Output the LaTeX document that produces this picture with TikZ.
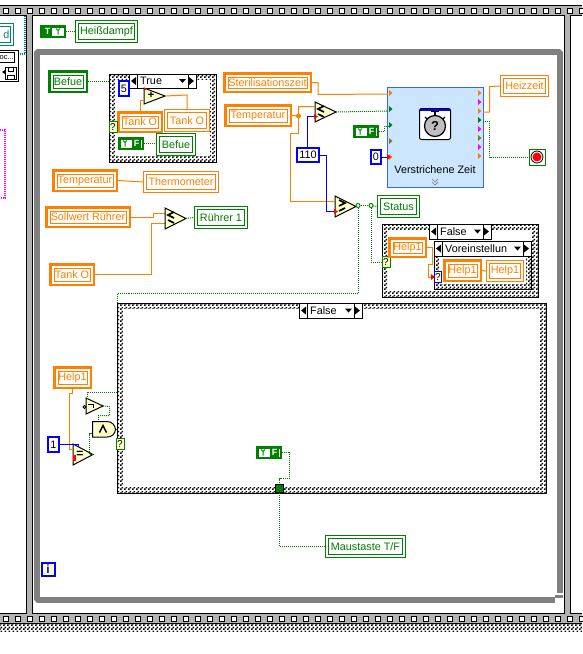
\documentclass[tikz,border=0pt]{standalone}
\usepackage{fontspec}
\setmainfont{Liberation Sans}
\usetikzlibrary{patterns,calc}
\pgfdeclarepatternformonly{lvchecker}{\pgfqpoint{0pt}{0pt}}{\pgfqpoint{4pt}{4pt}}{\pgfqpoint{4pt}{4pt}}{%
  \pgfpathrectangle{\pgfqpoint{0pt}{0pt}}{\pgfqpoint{2pt}{2pt}}%
  \pgfpathrectangle{\pgfqpoint{2pt}{2pt}}{\pgfqpoint{2pt}{2pt}}%
  \pgfusepath{fill}}
\definecolor{lvor}{HTML}{FF8000}
\definecolor{lvgr}{HTML}{007F00}
\definecolor{lvbl}{HTML}{0000FF}
\definecolor{lvbar}{HTML}{B3B3B3}
\definecolor{lvdk}{HTML}{808080}
\definecolor{lvtri}{HTML}{FFFFCC}
\definecolor{lvvi}{HTML}{CCE6FF}
\definecolor{lvviedge}{HTML}{3366FF}
\definecolor{lvteal}{HTML}{008080}
\definecolor{lvol}{HTML}{808000}
\definecolor{lvmg}{HTML}{FF00FF}
\tikzset{
  lvtext/.style={font=\fontsize{10.8}{12}\selectfont},
  owire/.style={lvor,line width=1pt},
  bwire/.style={lvbl,line width=1pt},
  gwire/.style={lvgr,line width=1pt,dash pattern=on 1pt off 1pt},
  prim/.style={draw=black,fill=lvtri,line width=1pt,line join=miter},
  junc/.style={circle,draw=lvgr,fill=white,line width=1pt,minimum size=4pt,inner sep=0pt},
  selterm/.style={fill=lvtri,line width=1pt,minimum width=8pt,minimum height=11pt,inner sep=0pt,font=\fontsize{10}{10}\selectfont},
}
% name,x0,y0,x1,y1,text,colour,outer width
\newcommand\lvbox[8]{%
  \pgfmathsetmacro\lvcx{(#2+#4)/2}\pgfmathsetmacro\lvcy{(#3+#5)/2}%
  \pgfmathsetmacro\lvw{#4-#2-#8}\pgfmathsetmacro\lvh{#5-#3-#8}%
  \node[draw=#7,line width=#8pt,fill=white,minimum width=\lvw pt,minimum height=\lvh pt,inner sep=0pt,text=#7,lvtext] (#1) at (\lvcx,\lvcy) {#6};%
  \draw[#7,line width=1pt] ({#2+#8+2.5},{#3+#8+2.5}) rectangle ({#4-#8-2.5},{#5-#8-2.5});}
% numeric constant
\newcommand\lvnum[6]{%
  \pgfmathsetmacro\lvcx{(#2+#4)/2}\pgfmathsetmacro\lvcy{(#3+#5)/2}%
  \pgfmathsetmacro\lvw{#4-#2-2}\pgfmathsetmacro\lvh{#5-#3-2}%
  \node[draw=lvbl,line width=2pt,fill=white,minimum width=\lvw pt,minimum height=\lvh pt,inner sep=0pt,lvtext] (#1) at (\lvcx,\lvcy) {#6};}
% boolean constant: name,x0,y0,letter,glyph-left?(0/1)
\newcommand\lvbool[5]{%
  \node[draw=lvgr,line width=2.5pt,fill=white,minimum width=23.5pt,minimum height=10.5pt,inner sep=0pt] (#1) at ({#2+13},{#3+6.5}) {};%
  \ifnum#5=1
    \node[fill=lvgr,text=white,inner sep=0pt,minimum width=9pt,minimum height=9pt,font=\fontsize{9}{9}\bfseries\selectfont] (#1-l) at ({#2+18.5},{#3+6.5}) {#4};%
    \draw[lvgr,line width=1pt] ({#2+5},{#3+3.5})--({#2+7},{#3+5.5})--({#2+9},{#3+3.5}) ({#2+7},{#3+5.5})--({#2+7},{#3+9.5});%
  \else
    \node[fill=lvgr,text=white,inner sep=0pt,minimum width=9pt,minimum height=9pt,font=\fontsize{9}{9}\bfseries\selectfont] (#1-l) at ({#2+7.5},{#3+6.5}) {#4};%
    \draw[lvgr,line width=1pt] ({#2+16},{#3+3.5})--({#2+18},{#3+5.5})--({#2+20},{#3+3.5}) ({#2+18},{#3+5.5})--({#2+18},{#3+9.5});%
  \fi}
% case frame: name,x0,y0,x1,y1,border
\newcommand\lvcase[6]{%
  \pgfmathsetmacro\lvcx{(#2+#4)/2}\pgfmathsetmacro\lvcy{(#3+#5)/2}%
  \pgfmathsetmacro\lvw{#4-#2}\pgfmathsetmacro\lvh{#5-#3}%
  \node[draw=black,line width=1pt,pattern=lvchecker,minimum width=\lvw pt,minimum height=\lvh pt,inner sep=0pt] (#1) at (\lvcx,\lvcy) {};%
  \fill[white] ({#2+#6},{#3+#6}) rectangle ({#4-#6},{#5-#6});}
% selector: name,x0,y0,x1,y1,text
\newcommand\lvsel[6]{%
  \pgfmathsetmacro\lvcx{(#2+#4)/2}\pgfmathsetmacro\lvcy{(#3+#5)/2}%
  \pgfmathsetmacro\lvw{#4-#2}\pgfmathsetmacro\lvh{#5-#3}%
  \node[draw=black,line width=1pt,fill=white,minimum width=\lvw pt,minimum height=\lvh pt,inner sep=0pt] (#1) at (\lvcx,\lvcy) {};%
  \draw[black,line width=1pt] ({#2+8},#3)--({#2+8},#5) ({#4-8},#3)--({#4-8},#5);%
  \fill ({#2+2},\lvcy)--({#2+7},{\lvcy-4})--({#2+7},{\lvcy+4})--cycle;%
  \fill ({#4-2},\lvcy)--({#4-7},{\lvcy-4})--({#4-7},{\lvcy+4})--cycle;%
  \fill ({#4-17},{\lvcy-2})--({#4-10},{\lvcy-2})--({#4-13.5},{\lvcy+2})--cycle;%
  \node[anchor=west,inner sep=0pt,lvtext] at ({#2+11},\lvcy) {#6};}
% triangle primitive: name, x, ytop, ybottom, xtip
\newcommand\lvtri[5]{%
  \coordinate (#1-o) at (#5,{(#3+#4)/2});%
  \draw[prim] (#2,#3)--(#5,{(#3+#4)/2})--(#2,#4)--cycle;}
\newcommand\lvle[2]{\draw[line width=1.6pt,line join=miter] ({#1+6},{#2-6})--(#1,{#2-3})--({#1+6},#2) (#1,{#2+2})--({#1+6},{#2+5});}
\newcommand\lvge[2]{\draw[line width=1.6pt,line join=miter] (#1,{#2-6})--({#1+6},{#2-3})--(#1,#2) ({#1+6},{#2+2})--(#1,{#2+5});}
\newcommand\lvterm[3]{\fill[#3] ({#1},{#2-3})--({#1+3.5},#2)--({#1},{#2+3})--cycle;}
\begin{document}
\begin{tikzpicture}[x=1pt,y=-1pt]
\useasboundingbox (0,0) rectangle (582,654);
\fill[white] (0,0) rectangle (582,654);
% ---- film strip frame
\fill[lvbar] (0,5) rectangle (582,15);
\fill[lvbar] (0,614) rectangle (582,623);
\fill[lvbar] (26,15) rectangle (33,614);
\fill[lvbar] (564,15) rectangle (571,614);
\draw[line width=1pt] (0,5.5)--(582,5.5);
\draw[line width=1pt] (0,15.5)--(26.5,15.5)--(26.5,613.5)--(0,613.5);
\draw[line width=1pt] (32.5,613.5)--(32.5,15.5)--(564.5,15.5)--(564.5,613.5)--(32.5,613.5);
\draw[line width=1pt] (582,15.5)--(570.5,15.5)--(570.5,613.5)--(582,613.5);
\draw[line width=1pt] (0,623.5)--(582,623.5);
\fill[pattern=lvchecker] (0,624) rectangle (582,631);
\foreach \k in {0,...,48}{
  \draw[fill=white,line width=1pt] ({3.5+12*\k},8.5) rectangle ({8.5+12*\k},13.5);
  \draw[fill=white,line width=1pt] ({3.5+12*\k},616.5) rectangle ({8.5+12*\k},621.5);
}
% ---- left neighbour frame fragments
\draw[lvteal,line width=2pt,dash pattern=on 1pt off 1pt] (25,16)--(25,54)--(19,54);
\draw[lvteal,line width=1pt] (0,23.5)--(13.5,23.5)--(13.5,45.5)--(0,45.5);
\draw[lvteal,line width=1pt] (0,26.5)--(10.5,26.5)--(10.5,42.5)--(0,42.5);
\node[text=lvteal,lvtext,anchor=east,inner sep=0pt] (adfrag) at (9.5,34.5) {d};
\draw[line width=1pt,fill=white] (0,50.5)--(18.5,50.5)--(18.5,81.5)--(0,81.5);
\draw[line width=1pt] (0,52.5)--(14.5,52.5)--(14.5,62.5)--(0,62.5);
\node[font=\fontsize{7.5}{8}\selectfont,anchor=east,inner sep=0pt] (ocfrag) at (14,57.5) {oc...};
\draw[line width=1pt,fill=white] (5.5,67.5)--(16.5,67.5)--(16.5,79.5)--(5.5,79.5)--cycle;
\draw[line width=1pt] (8.5,67.5) rectangle (13.5,71.5) (7.5,79.5)--(7.5,75.5)--(14.5,75.5)--(14.5,79.5);
\fill (2,72)--(5,70)--(5,74)--cycle;
\draw[lvmg,line width=2pt,dash pattern=on 1pt off 1pt] (0,130)--(5,130)--(5,198)--(0,198);
% ---- while loop
\draw[lvdk,line width=6pt,line join=bevel] (37,600)--(37,52)--(560,52)--(560,593);
\draw[lvdk,line width=6pt,line join=bevel] (37,593)--(37,600)--(555,600);
\fill[lvdk] (555,595)--(563,595)--(563,598)--(555,598)--cycle;
% ---- Heissdampf
\lvbool{cT}{40}{25}{T}{0}
\lvbox{heiss}{75}{20}{138}{43}{Heißdampf}{lvgr}{1}
\draw[gwire] (cT.east)--(heiss.west);
% ---- first case
\lvbox{befueC}{48}{70}{88}{93}{Befue}{lvgr}{2.5}
\lvcase{case1}{109}{74}{216}{162}{6}
\draw[gwire] (befueC.east)--(case1.west |- befueC.east);
\lvsel{sel1}{129}{74}{196}{88}{True}
\lvnum{five}{118}{80}{130}{97}{5}
\lvbox{tankC}{117}{111}{163}{133}{Tank O}{lvor}{2.5}
\lvbox{tankI}{164}{109}{210}{132}{Tank O}{lvor}{1}
\lvtri{add}{144}{88}{104}{165}
\node[font=\bfseries\fontsize{11}{11}\selectfont,inner sep=0pt] (plus) at (151,95) {+};
\fill[red] (144,88) rectangle (146,90);
\draw[owire] (140,111)--(140,100)--(144,100);
\draw[owire] (add-o)--(187,95)--(187,109);
\node[draw=lvgr,selterm] (q1) at (113,127) {?};
\lvbool{cF1}{118}{137}{F}{1}
\lvbox{befueI}{156}{133}{196}{156}{Befue}{lvgr}{1}
\draw[gwire] (cF1.east)--(cF1.east -| befueI.west);
% ---- timer VI
\node[draw=lvviedge,fill=lvvi,line width=1pt,minimum width=96pt,minimum height=100pt,inner sep=0pt] (vi) at (435,137) {};
\coordinate (vi-l1) at (388,94);\coordinate (vi-l2) at (388,111);\coordinate (vi-l3) at (388,126);\coordinate (vi-l5) at (388,157);
\coordinate (vi-r3) at (483,112);\coordinate (vi-r4) at (483,121);
\lvterm{389}{93}{lvor}\lvterm{389}{109}{lvgr}\lvterm{389}{125}{lvgr}\lvterm{389}{141}{lvol}\lvterm{389}{157}{lvor}
\lvterm{478}{93}{lvor}\lvterm{478}{102}{lvmg}\lvterm{478}{111}{lvor}\lvterm{478}{120}{lvgr}\lvterm{478}{129}{lvmg}\lvterm{478}{138}{lvol}\lvterm{478}{147}{lvmg}\lvterm{478}{156}{lvor}
\draw[fill=white,line width=1pt,rounded corners=2pt] (419.5,108.5) rectangle (450.5,139.5);
\fill[lvbl] (420,108.5) rectangle (450,110.5);
\draw[fill=lightgray,line width=1.2pt] (435,126) circle (10.5);
\draw[line width=1.2pt] (431,111.5)--(439,111.5) (435,111.5)--(435,115.5);
\draw[line width=1.2pt] (425,117)--(427,119) (445,117)--(443,119);
\node[font=\bfseries\fontsize{13}{13}\selectfont,inner sep=0pt] (qmark) at (435,125.5) {?};
\node[lvtext,inner sep=0pt] (vilabel) at (435,170) {Verstrichene Zeit};
\draw[lvdk,line width=.7pt] (432,179)--(435,182)--(438,179) (432,182)--(435,185)--(438,182);
% ---- upper right controls
\lvbox{steril}{223}{72}{312}{93}{Sterilisationszeit}{lvor}{2.5}
\lvbox{temp}{224}{104}{292}{127}{Temperatur}{lvor}{2.5}
\lvnum{n110}{296}{147}{320}{163}{110}
\lvtri{cmpA}{315}{102}{122}{336}
\lvle{318}{112}
\lvtri{cmpB}{335}{196}{217}{356}
\lvge{339}{206}
\lvbool{cF2}{353}{125}{F}{1}
\lvnum{zero}{370}{149}{382}{165}{0}
\lvbox{heizzeit}{500}{75}{549}{97}{Heizzeit}{lvor}{1}
\node[draw=lvgr,fill=white,line width=1pt,minimum size=16pt,inner sep=0pt] (stop) at (537,157) {};
\draw[line width=.8pt] (537,157) circle (6);
\fill[red] (537,157) circle (4.5);
\lvbox{status}{377}{195}{420}{218}{Status}{lvgr}{1}
\draw[owire] (steril.east)--(318,82.5)--(318,94.5)--(vi-l1);
\coordinate (tj) at (298.5,116);
\draw[owire] (temp.east)--(tj)--(298.5,106.5)--(315,106.5);
\draw[owire] (tj)--(298.5,133)--(290.5,133)--(290.5,201.5)--(335,201.5);
\fill[lvor] (tj) circle (2.5);
\draw[bwire] (307.5,147)--(307.5,116.5)--(315,116.5);
\draw[bwire] (n110.east)--(326.5,155)--(326.5,211.5)--(335,211.5);
\fill[red] (314,114)--(318,116.5)--(314,119)--cycle;
\fill[red] (334,209)--(338,211.5)--(334,214)--cycle;
\draw[gwire] (cmpA-o)--(vi-l2);
\draw[gwire] (cF2.east)--(384.5,131.5)--(384.5,126)--(vi-l3);
\draw[bwire] (zero.east)--(vi-l5);
\fill[red] (387,154)--(391,157)--(387,160)--cycle;
\draw[owire] (vi-r3)--(489.5,112)--(489.5,86.5)--(heizzeit.west);
\draw[gwire] (vi-r4)--(489.5,121)--(489.5,157)--(stop.west);
% ---- left middle
\lvbox{tempB}{52}{169}{118}{192}{Temperatur}{lvor}{2.5}
\lvbox{thermo}{143}{171}{219}{193}{Thermometer}{lvor}{1}
\draw[owire] (tempB.east)--(thermo.west);
\lvbox{soll}{45}{206}{131}{228}{Sollwert Rührer}{lvor}{2.5}
\lvbox{tankB}{49}{263}{95}{286}{Tank O}{lvor}{2.5}
\lvbox{ruehrer}{194}{206}{248}{229}{Rührer 1}{lvgr}{1}
\draw[owire] (soll.east)--(153.5,217)--(153.5,213.5)--(165,213.5);
\draw[owire] (tankB.east)--(151.5,274.5)--(151.5,223.5)--(165,223.5);
\lvtri{cmpC}{165}{208}{229}{186}
\lvle{168}{218}
\draw[gwire] (cmpC-o)--(ruehrer.west);
% ---- second case
\lvcase{case2}{382}{224}{538}{297}{6}
\lvsel{sel2}{429}{224}{491}{239}{False}
\node[draw=lvgr,selterm] (q2) at (386,262) {?};
\lvbox{help2}{388}{237}{427}{258}{Help1}{lvor}{2.5}
\lvcase{case3}{434}{241}{531}{289}{5}
\lvsel{sel3}{434}{241}{531}{256}{Voreinstellun}
\node[draw=lvbl,selterm,minimum width=7pt] (q3) at (438,277) {?};
\lvbox{help3}{443}{259}{482}{282}{Help1}{lvor}{2.5}
\lvbox{help4}{486}{260}{524}{282}{Help1}{lvor}{1}
\draw[owire] (help3.east)--(help4.west);
\draw[owire] (help2.east)--(432.5,247.5)--(432.5,264.5)--(428.5,264.5)--(428.5,277)--(q3.west);
\fill[red] (431,274)--(435,277)--(431,280)--cycle;
% ---- third case
\lvcase{case4}{117}{303}{546}{493}{6}
\lvsel{sel4}{299}{303}{362}{318}{False}
% ---- status wiring
\node[junc] (j1) at (358,205.5) {};
\node[junc] (j2) at (371,205.5) {};
\draw[gwire] (cmpB-o)--(j1);
\draw[gwire] (j1)--(j2);
\draw[gwire] (j2)--(status.west);
\draw[gwire] (j2)--(371,262)--(q2.west);
\draw[gwire] (j1)--(358,293.5)--(117.5,293.5)--(117.5,303);
% ---- lower logic
\lvbox{helpA}{53}{366}{92}{389}{Help1}{lvor}{2.5}
\lvnum{one}{47}{436}{60}{453}{1}
\node[draw=lvgr,selterm] (q4) at (120,444) {?};
\lvtri{eq}{73}{444}{465}{93}
\node[font=\bfseries\fontsize{12}{12}\selectfont,inner sep=0pt] (eqs) at (80,454) {=};
\fill[red] (73,455) rectangle (76,461);
\draw[owire] (72.5,389)--(72.5,393.5)--(69.5,393.5)--(69.5,449.5)--(73,449.5);
\draw[bwire] (one.east)--(78.5,444.5)--(78.5,447);
\lvtri{notg}{86}{398}{414}{103}
\draw[line width=1pt] (88,404)--(93,404)--(93,408);
\draw[line width=1pt,fill=white] (84.5,407) circle (1.5);
\draw[prim] (92.5,421.5)--(107,421.5) .. controls (112,421.5) and (115,425) .. (115.5,429.5) .. controls (115,434) and (112,437) .. (107,437) --(92.5,437)--cycle;
\coordinate (and-o) at (115.5,429.5);
\draw[line width=1.5pt] (99.5,432.5)--(103,425.5)--(106.5,432.5);
\draw[gwire] (case4.west |- 0,392.5)--(87.5,392.5)--(87.5,398);
\draw[gwire] (notg-o)--(109.5,406.5)--(109.5,415.5)--(98.5,415.5)--(98.5,421);
\draw[gwire] (eq-o)--(89.5,454.5)--(89.5,433.5)--(92,433.5);
\draw[gwire] (and-o)--(case4.west |- and-o);
\lvbool{cF3}{256}{446}{F}{1}
\node[draw=black,fill=lvgr,line width=1pt,minimum width=8pt,minimum height=8pt,inner sep=0pt] (tunnel) at (279.5,488.5) {};
\draw[gwire] (cF3.east)--(289,452.5)--(289,478.5)--(279.5,478.5)--(tunnel.north);
\lvbox{maus}{325}{535}{406}{558}{Maustaste T/F}{lvgr}{1}
\draw[gwire] (tunnel.south)--(279.5,546.5)--(maus.west);
\node[draw=lvbl,fill=lvtri,line width=2pt,minimum width=13pt,minimum height=13pt,inner sep=0pt,text=lvbl,font=\bfseries\fontsize{12}{12}\selectfont] (iter) at (48,569) {i};
\end{tikzpicture}
\end{document}
